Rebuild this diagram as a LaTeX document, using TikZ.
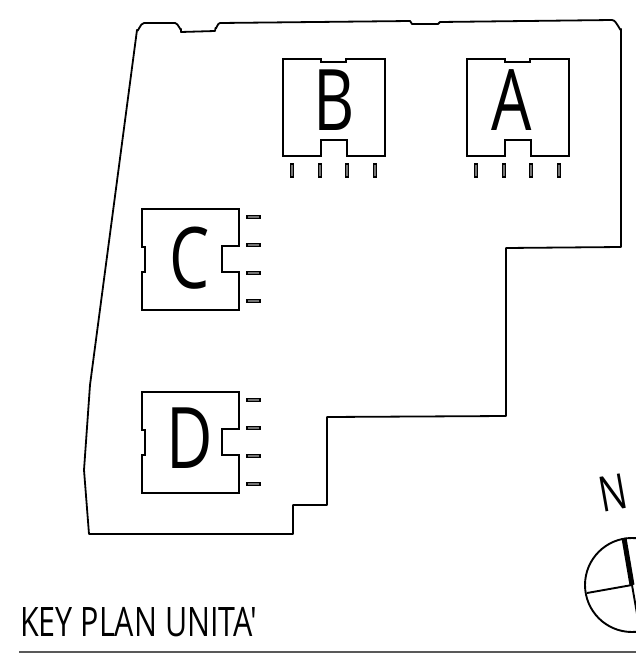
\documentclass[tikz,border=0pt]{standalone}
\usepackage{fontspec}
\setmainfont{Open Sans}
\newfontfamily\planfont[FakeStretch=.75]{Open Sans}
\tikzset{
 wall/.style={line width=1.8pt, line join=round},
 unit/.style={line width=1.8pt, line join=miter},
 balcony/.style={draw=black, fill=black!55, line width=1.2pt},
 unitlabel/.style={font=\planfont\fontsize{85}{85}\selectfont, inner sep=0pt}
}
\newcommand{\balconyv}[1]{\draw[balcony] (#1-1.5,164) rectangle (#1+1.5,177);}
\newcommand{\balconyh}[2]{\draw[balcony] (#1,#2-1.5) rectangle (#1+13,#2+1.5);}
\begin{document}
\begin{tikzpicture}[x=1pt, y=-1pt]
 \useasboundingbox (0,0) rectangle (636,653);
 % site outline
 \draw[wall] (90,385) -- (137,30) to[out=-82,in=180] (144,23) -- (175,23)
  to[out=0,in=-90] (181,29) -- (181,32) -- (215,31) -- (215.500,28)
  to[out=-80,in=180] (220,23) -- (410,21) -- (412,24) -- (438,24)
  -- (440,22) -- (612,20) to[out=0,in=-90] (621,29) -- (621,247) -- (506,248)
  -- (506,416) -- (327,417) -- (327,505) -- (293,505)
  -- (293,534) -- (89,534) -- (84,470) -- cycle;
 % units
 \draw[unit] (283,59) -- (321,59) -- (321,62) -- (346,62) -- (346,59) -- (385,59) -- (385,156)
  -- (347,156) -- (347,140) -- (321,140) -- (321,156) -- (283,156) -- cycle;
 \draw[unit] (467,59) -- (505,59) -- (505,62) -- (530,62) -- (530,59) -- (569,59) -- (569,156)
  -- (531,156) -- (531,140) -- (505,140) -- (505,156) -- (467,156) -- cycle;
 \draw[unit] (142,209) -- (239,209) -- (239,246) -- (222,246) -- (222,272) -- (239,272) -- (239,310)
  -- (142,310) -- (142,272) -- (145,272) -- (145,247) -- (142,247) -- cycle;
 \draw[unit] (142,392) -- (239,392) -- (239,429) -- (222,429) -- (222,455) -- (239,455) -- (239,493)
  -- (142,493) -- (142,455) -- (145,455) -- (145,430) -- (142,430) -- cycle;
 \foreach\i in{292,320,347,375}{\balconyv{\i}}
 \foreach\i in{476,504,531,559}{\balconyv{\i}}
 \foreach\j in{217,245,273,301}{\balconyh{247}{\j}}
 \foreach\j in{400,428,456,484}{\balconyh{247}{\j}}
 \node[unitlabel] (labelB) at (334,100) {B};
 \node[unitlabel] (labelA) at (512,100) {A};
 \node[unitlabel] (labelC) at (190,258) {C};
 \node[unitlabel] (labelD) at (190,438) {D};
 % north arrow
 \begin{scope}
  \clip (0,0) rectangle (636,653);
  \draw[line width=1.9pt] (632,585) circle (47);
  \draw[line width=1.9pt] (587,593) -- (632,585);
  \draw[line width=1.9pt] (632,585) -- (640,631);
  \draw[line width=5pt] (624,538) -- (632,585);
 \end{scope}
 \node[font=\planfont\fontsize{49}{49}\selectfont, rotate=10, inner sep=0pt] (north) at (613,493) {N};
 % title
 \node[font=\planfont\fontsize{40.6}{41}\selectfont, anchor=base west, inner sep=0pt] (title) at (20,636) {KEY PLAN UNITA'};
 \draw[line width=2pt, black!65] (19,652) -- (636,652);
\end{tikzpicture}
\end{document}
